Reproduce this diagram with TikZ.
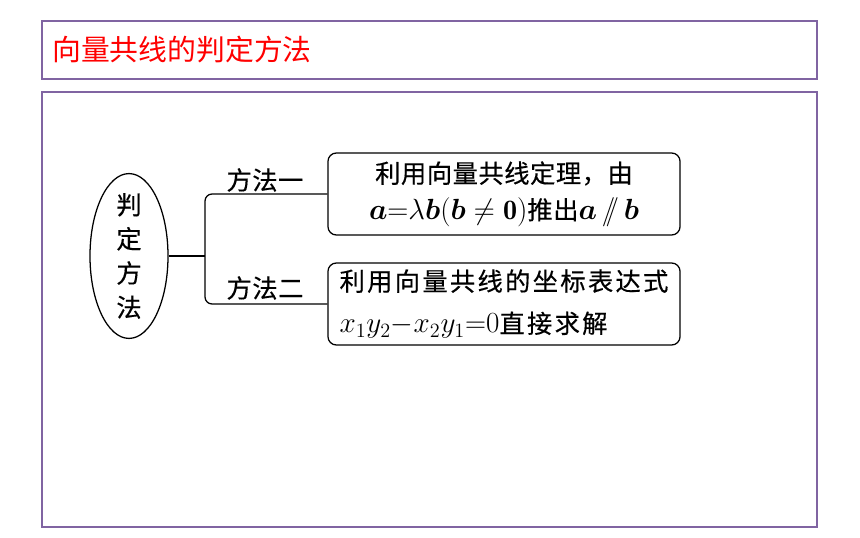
\documentclass[tikz,border=0pt]{standalone}
\usepackage{fontspec}
\usepackage{amsmath}
\newfontfamily\cjk[LetterSpace=2,FakeBold=0.4]{Noto Sans CJK SC}
\newfontfamily\cjkwide[LetterSpace=9,FakeBold=0.4]{Noto Sans CJK SC}
\newfontfamily\cjktitle{Noto Sans CJK SC}
\definecolor{FramePurple}{RGB}{128,100,162}
\newcommand{\bigmath}[1]{{\fontsize{20}{27}\selectfont$#1$}}
\usetikzlibrary{shapes.geometric,positioning,calc}

\begin{document}
\begin{tikzpicture}[x=0.025cm,y=-0.025cm,
						frame/.style={draw=FramePurple,line width=1.4pt},
						branch/.style={line width=0.9pt,rounded corners=5pt},
						txt/.style={font=\cjk\fontsize{18}{26}\selectfont},
						methodbox/.style={txt,draw,line width=0.9pt,rounded corners=6pt,minimum width=8.8cm,minimum height=2.05cm,inner sep=3pt}
					]
					\useasboundingbox (0,0) rectangle (860,538);
					\draw[frame] (42,21) rectangle (817,79);
					\draw[frame] (42,92) rectangle (817,527);
					\node[anchor=west,inner sep=0pt,text=red,font=\cjktitle\fontsize{20.5}{24}\selectfont] (title) at (52,50) {向量共线的判定方法};

					\node[draw,ellipse,line width=0.9pt,minimum width=1.95cm,minimum height=4.12cm,inner xsep=0pt,inner ysep=-8pt,align=center,font=\cjk\fontsize{18}{24.3}\selectfont] (judge) at (129,256) {判\\定\\方\\法};
					\node[methodbox,align=center] (way1) at (504,194) {利用向量共线定理，由\\\bigmath{\boldsymbol{a}{=}\lambda\boldsymbol{b}(\boldsymbol{b}\neq\mathbf{0})}推出\bigmath{\boldsymbol{a}\,/\!\!/\,\boldsymbol{b}}};
					\node[methodbox,align=left,font=\cjkwide\fontsize{18}{30}\selectfont] (way2) at (504,304) {利用向量共线的坐标表达式\\\bigmath{x_1y_2{-}x_2y_1{=}0}直接求解};
					\node[txt] (label1) at (265,180) {方法一};
					\node[txt] (label2) at (265,288) {方法二};

					\coordinate (fork) at (205,256);
					\draw[branch] (judge.east) -- (fork);
					\draw[branch] (way1.west) -| (fork) |- (way2.west);
				\end{tikzpicture}
\end{document}
